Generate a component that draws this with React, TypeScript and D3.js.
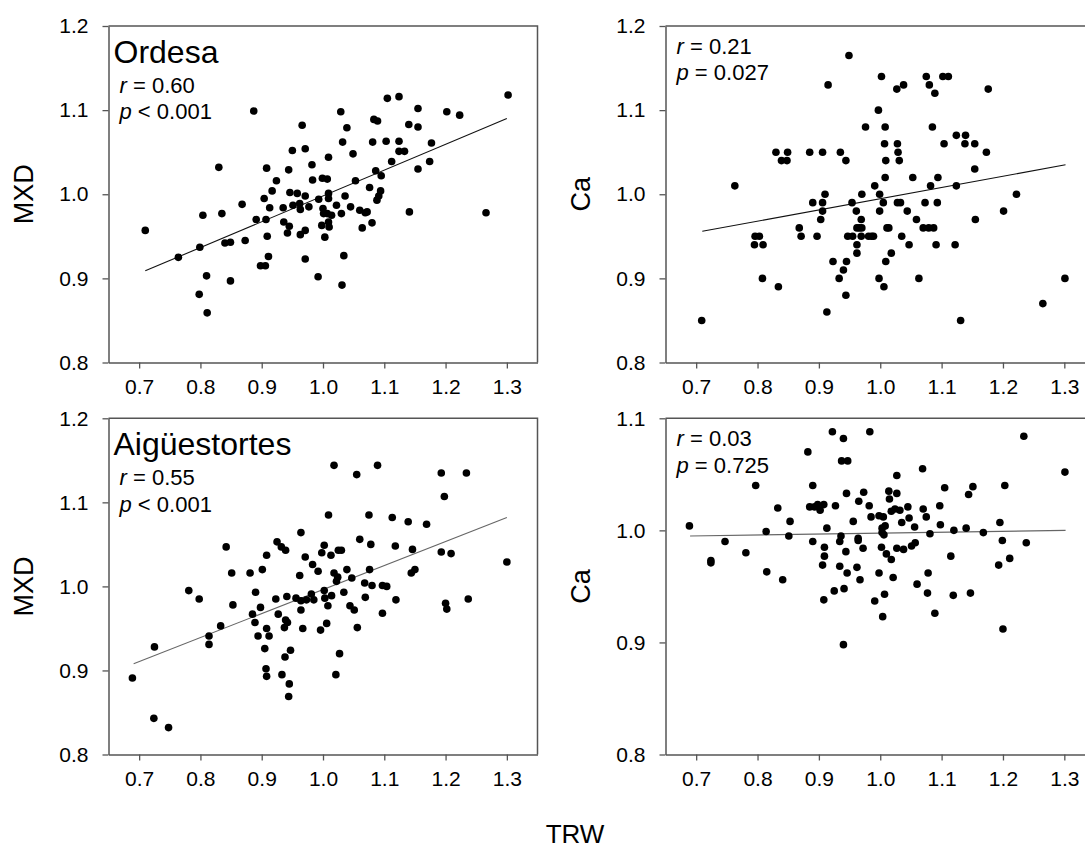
import React, { useEffect, useRef } from "react";
import * as d3 from "d3";

// tick values
const trwTicks = [0.7, 0.8, 0.9, 1.0, 1.1, 1.2, 1.3];
const mxdTicks = [0.8, 0.9, 1.0, 1.1, 1.2];
const caAiguesTicks = [0.8, 0.9, 1.0, 1.1];

// Ordesa, MXD vs TRW
const ordesaMxdTRW = [
  0.710, 0.764, 0.799, 0.804, 0.810, 0.798, 0.811, 0.830, 0.835, 0.840, 0.849, 0.849, 0.868, 0.873,
  0.887, 0.891, 0.898, 0.904, 0.906, 0.907, 0.908, 0.909, 0.911, 0.913, 0.917, 0.924, 0.935, 0.936,
  0.942, 0.944, 0.946, 0.945, 0.950, 0.951, 0.958, 0.962, 0.963, 0.963, 0.966, 0.971, 0.971, 0.971,
  0.971, 0.977, 0.982, 0.983, 0.992, 0.993, 0.999, 1.007, 1.009, 1.009, 1.009, 1.000, 1.001, 1.007,
  1.014, 1.009, 0.998, 1.010, 1.003, 1.022, 1.029, 1.032, 1.039, 1.030, 1.036, 1.045, 1.034, 1.031,
  1.049, 1.053, 1.060, 1.064, 1.069, 1.072, 1.076, 1.080, 1.081, 1.083, 1.089, 1.086, 1.095, 1.094,
  1.091, 1.088, 1.103, 1.105, 1.112, 1.124, 1.124, 1.124, 1.133, 1.140, 1.141, 1.155, 1.155, 1.155,
  1.174, 1.177, 1.202, 1.223, 1.266, 1.302,
];
const ordesaMXD = [
  0.957, 0.925, 0.937, 0.975, 0.903, 0.881, 0.859, 1.032, 0.977, 0.942, 0.943, 0.897, 0.988, 0.945,
  1.099, 0.970, 0.915, 0.995, 0.915, 0.970, 1.031, 0.950, 0.926, 0.984, 1.004, 1.016, 0.984, 0.967,
  0.954, 1.029, 1.002, 0.962, 1.052, 0.987, 1.001, 0.989, 0.982, 0.952, 1.082, 1.054, 0.998, 0.957,
  0.923, 0.985, 1.035, 1.017, 0.902, 0.994, 1.019, 1.018, 1.044, 1.001, 0.995, 0.983, 0.977, 0.977,
  0.975, 0.967, 0.963, 0.961, 0.949, 0.987, 1.098, 1.062, 1.079, 0.977, 0.998, 0.985, 0.927, 0.892,
  1.048, 1.016, 0.981, 0.960, 0.978, 0.979, 1.008, 0.966, 1.062, 1.089, 1.087, 1.028, 1.022, 1.004,
  0.998, 0.993, 1.063, 1.114, 1.039, 1.116, 1.063, 1.051, 1.051, 1.083, 0.979, 1.102, 1.080, 1.030,
  1.039, 1.061, 1.098, 1.094, 0.978, 1.118,
];

// Ordesa, Ca vs TRW
const ordesaCaTRW = [
  0.709, 0.763, 0.796, 0.803, 0.795, 0.809, 0.808, 0.830, 0.839, 0.848, 0.849, 0.834, 0.868, 0.871,
  0.885, 0.897, 0.890, 0.906, 0.906, 0.910, 0.906, 0.903, 0.915, 0.913, 0.923, 0.935, 0.944, 0.933,
  0.940, 0.945, 0.944, 0.949, 0.947, 0.955, 0.954, 0.961, 0.962, 0.966, 0.970, 0.969, 0.962, 0.962,
  0.970, 0.969, 0.981, 0.989, 0.986, 0.976, 0.991, 0.997, 1.002, 1.008, 1.007, 1.009, 1.008, 0.999,
  1.005, 0.999, 1.011, 1.014, 1.009, 0.998, 1.006, 1.018, 1.027, 1.038, 1.028, 1.029, 1.031, 1.028,
  1.033, 1.035, 1.044, 1.047, 1.053, 1.059, 1.063, 1.070, 1.079, 1.087, 1.073, 1.075, 1.080, 1.089,
  1.082, 1.085, 1.093, 1.094, 1.091, 1.102, 1.111, 1.104, 1.122, 1.124, 1.124, 1.139, 1.138, 1.131,
  1.154, 1.154, 1.155, 1.173, 1.176, 1.201, 1.222, 1.265, 1.301,
];
const ordesaCa = [
  0.85, 1.01, 0.95, 0.95, 0.94, 0.94, 0.90, 1.05, 1.04, 1.04, 1.05, 0.89, 0.96, 0.95,
  1.05, 0.95, 0.99, 1.05, 0.99, 1.00, 0.98, 0.97, 1.13, 0.86, 0.92, 1.05, 1.04, 0.90,
  0.91, 0.92, 0.88, 1.165, 0.95, 0.95, 0.99, 0.98, 0.96, 0.96, 0.96, 0.97, 0.94, 0.93,
  1.00, 0.95, 0.95, 0.95, 0.95, 1.08, 1.01, 1.10, 1.14, 1.08, 1.06, 1.04, 1.02, 1.00,
  0.99, 0.98, 0.96, 0.96, 0.92, 0.90, 0.89, 0.93, 1.125, 1.13, 1.06, 1.05, 1.04, 0.99,
  0.99, 0.95, 0.98, 0.94, 1.02, 0.97, 0.90, 0.96, 0.96, 0.96, 0.99, 1.14, 1.13, 1.12,
  1.01, 1.08, 0.99, 1.02, 0.94, 1.14, 1.14, 1.06, 0.94, 1.01, 1.07, 1.07, 1.06, 0.85,
  1.06, 1.03, 0.97, 1.05, 1.125, 0.98, 1.00, 0.87, 0.90,
];

// Aigüestortes, MXD vs TRW
const aiguesMxdTRW = [
  0.689, 0.725, 0.724, 0.748, 0.781, 0.798, 0.814, 0.814, 0.833, 0.842, 0.851, 0.853, 0.881, 0.885,
  0.890, 0.889, 0.894, 0.898, 0.901, 0.905, 0.908, 0.908, 0.912, 0.907, 0.908, 0.923, 0.925, 0.927,
  0.932, 0.939, 0.941, 0.939, 0.942, 0.937, 0.947, 0.938, 0.933, 0.945, 0.944, 0.964, 0.962, 0.971,
  0.956, 0.964, 0.973, 0.964, 0.967, 0.983, 0.992, 0.981, 0.985, 0.996, 0.998, 1.002, 1.013, 1.009,
  1.018, 1.025, 1.030, 1.039, 1.018, 1.024, 1.022, 1.047, 1.002, 1.003, 1.014, 1.008, 1.006, 1.034,
  1.027, 1.021, 1.055, 1.089, 1.060, 1.075, 1.078, 1.076, 1.068, 1.080, 1.069, 1.044, 1.051, 1.056,
  1.097, 1.104, 1.097, 1.113, 1.118, 1.119, 1.139, 1.146, 1.144, 1.150, 1.169, 1.193, 1.198, 1.193,
  1.209, 1.200, 1.202, 1.234, 1.237, 1.300,
];
const aiguesMXD = [
  0.891, 0.928, 0.843, 0.832, 0.995, 0.985, 0.941, 0.931, 0.953, 1.047, 1.016, 0.978, 1.016, 0.967,
  0.993, 0.957, 0.941, 0.975, 1.020, 0.926, 1.037, 0.950, 0.941, 0.902, 0.893, 0.985, 1.053, 0.967,
  1.047, 1.043, 0.988, 0.960, 0.957, 0.951, 0.924, 0.916, 0.895, 0.884, 0.869, 1.064, 1.013, 1.035,
  0.986, 0.983, 0.984, 0.972, 0.950, 1.026, 1.018, 0.991, 0.984, 0.948, 1.040, 1.049, 1.037, 1.085,
  1.144, 1.043, 1.043, 1.020, 1.016, 1.011, 1.006, 1.010, 0.995, 0.986, 0.989, 0.977, 0.956, 0.993,
  0.920, 0.895, 1.133, 1.144, 1.056, 1.085, 1.050, 1.020, 1.004, 1.001, 0.987, 0.977, 0.972, 0.951,
  1.001, 1.000, 0.968, 1.082, 1.048, 0.984, 1.077, 1.044, 1.016, 1.020, 1.074, 1.135, 1.107, 1.041,
  1.039, 0.980, 0.973, 1.135, 0.985, 1.029,
];

// Aigüestortes, Ca vs TRW
const aiguesCaTRW = [
  0.689, 0.724, 0.724, 0.747, 0.781, 0.797, 0.815, 0.814, 0.833, 0.841, 0.853, 0.851, 0.882, 0.890,
  0.885, 0.893, 0.898, 0.902, 0.908, 0.890, 0.913, 0.909, 0.909, 0.906, 0.908, 0.922, 0.927, 0.925,
  0.934, 0.936, 0.934, 0.940, 0.937, 0.947, 0.945, 0.944, 0.946, 0.941, 0.940, 0.965, 0.973, 0.956,
  0.964, 0.964, 0.972, 0.962, 0.967, 0.982, 0.985, 0.983, 0.991, 0.998, 1.005, 1.003, 1.008, 1.003,
  1.006, 1.002, 1.010, 1.018, 0.998, 1.021, 1.007, 1.004, 1.014, 1.015, 1.027, 1.027, 1.018, 1.024,
  1.032, 1.045, 1.047, 1.035, 1.056, 1.027, 1.038, 1.051, 1.057, 1.069, 1.070, 1.075, 1.081, 1.060,
  1.078, 1.077, 1.089, 1.105, 1.097, 1.098, 1.115, 1.120, 1.119, 1.140, 1.144, 1.151, 1.147, 1.168,
  1.195, 1.199, 1.203, 1.193, 1.211, 1.200, 1.234, 1.238, 1.301,
];
const aiguesCa = [
  1.004, 0.973, 0.971, 0.990, 0.980, 1.040, 0.963, 0.999, 1.020, 0.956, 1.008, 0.995, 1.070, 1.040,
  1.021, 1.021, 1.023, 1.018, 1.023, 0.990, 1.002, 0.985, 0.977, 0.969, 0.938, 1.088, 1.022, 0.946,
  0.990, 0.995, 0.968, 1.082, 1.062, 1.062, 1.033, 0.981, 0.962, 0.948, 0.898, 1.026, 1.034, 1.008,
  0.993, 0.991, 0.984, 0.967, 0.956, 1.022, 1.012, 1.088, 0.937, 1.013, 1.012, 1.002, 1.004, 0.998,
  0.996, 0.985, 0.979, 0.974, 0.962, 0.958, 0.943, 0.923, 1.035, 1.028, 1.049, 1.033, 1.017, 1.019,
  1.018, 1.021, 1.011, 1.007, 1.003, 0.984, 0.983, 0.986, 0.989, 1.055, 1.019, 1.012, 0.997, 0.952,
  0.962, 0.944, 0.926, 1.038, 1.022, 1.005, 0.977, 1.000, 0.942, 1.002, 1.032, 1.039, 0.944, 0.998,
  1.007, 0.991, 1.040, 0.969, 0.975, 0.912, 1.084, 0.989, 1.052,
];

// regression lines: [trw0, y0, trw1, y1]
const ordesaMxdFit = [0.71, 0.909, 1.30, 1.090];
const ordesaCaFit = [0.71, 0.956, 1.302, 1.035];
const aiguesMxdFit = [0.691, 0.908, 1.30, 1.082];
const aiguesCaFit = [0.69, 0.995, 1.302, 1.0];

const FONT = "'Liberation Sans', Arial, Helvetica, sans-serif";

const panels = [
  {
    left: 108.5, right: 537.5, top: 26, bottom: 362.5,
    yDomain: [0.8, 1.2], yTicks: mxdTicks, xs: ordesaMxdTRW, ys: ordesaMXD,
    fit: ordesaMxdFit, fitColor: "#111", title: "Ordesa", r: "0.60", p: "< 0.001", yLabel: "MXD",
  },
  {
    left: 665.5, right: 1095, top: 26, bottom: 362.5,
    yDomain: [0.8, 1.2], yTicks: mxdTicks, xs: ordesaCaTRW, ys: ordesaCa,
    fit: ordesaCaFit, fitColor: "#111", title: "", r: "0.21", p: "= 0.027", yLabel: "Ca",
  },
  {
    left: 108.5, right: 537.5, top: 418.3, bottom: 754.5,
    yDomain: [0.8, 1.2], yTicks: mxdTicks, xs: aiguesMxdTRW, ys: aiguesMXD,
    fit: aiguesMxdFit, fitColor: "#666", title: "Aigüestortes", r: "0.55", p: "< 0.001", yLabel: "MXD",
  },
  {
    left: 665.5, right: 1095, top: 418.3, bottom: 754.5,
    yDomain: [0.8, 1.1], yTicks: caAiguesTicks, xs: aiguesCaTRW, ys: aiguesCa,
    fit: aiguesCaFit, fitColor: "#666", title: "", r: "0.03", p: "= 0.725", yLabel: "Ca",
  },
];

const App = () => {
  const ref = useRef<SVGSVGElement>(null);

  useEffect(() => {
    const svg = d3.select(ref.current);
    svg.selectAll("*").remove();

    panels.forEach((p) => {
      const x = d3.scaleLinear().domain([0.65, 1.35]).range([p.left, p.right]);
      const y = d3.scaleLinear().domain(p.yDomain).range([p.bottom, p.top]);
      const g = svg.append("g");

      // frame (top + right)
      g.append("path")
        .attr("d", `M${p.left},${p.top}H${p.right}V${p.bottom}`)
        .attr("fill", "none")
        .attr("stroke", "#555")
        .attr("stroke-width", 1.5);

      const xAxis = g
        .append("g")
        .attr("transform", `translate(0,${p.bottom})`)
        .call(
          d3.axisBottom(x).tickValues(trwTicks).tickSize(6).tickSizeOuter(0)
            .tickPadding(11).tickFormat(d3.format(".1f"))
        );
      const yAxis = g
        .append("g")
        .attr("transform", `translate(${p.left},0)`)
        .call(
          d3.axisLeft(y).tickValues(p.yTicks).tickSize(6).tickSizeOuter(0)
            .tickPadding(14).tickFormat(d3.format(".1f"))
        );
      [xAxis, yAxis].forEach((a) => {
        a.attr("font-family", FONT).attr("font-size", 21);
        a.select(".domain").attr("stroke", "#555").attr("stroke-width", 1.5);
        a.selectAll(".tick line").attr("stroke", "#555").attr("stroke-width", 1.3);
        a.selectAll(".tick text").attr("fill", "#000");
      });

      // regression line
      g.append("line")
        .attr("x1", x(p.fit[0]))
        .attr("y1", y(p.fit[1]))
        .attr("x2", x(p.fit[2]))
        .attr("y2", y(p.fit[3]))
        .attr("stroke", p.fitColor)
        .attr("stroke-width", 1.1);

      g.append("g")
        .selectAll("circle")
        .data(d3.range(p.xs.length))
        .join("circle")
        .attr("cx", (i) => x(p.xs[i]))
        .attr("cy", (i) => y(p.ys[i]))
        .attr("r", 3.8)
        .attr("fill", "#000");

      // labels
      const hasTitle = p.title !== "";
      if (hasTitle) {
        g.append("text")
          .attr("x", p.left + 5)
          .attr("y", p.top + 36.5)
          .attr("font-family", FONT)
          .attr("font-size", 32)
          .text(p.title);
      }
      const rY = hasTitle ? p.top + 66.5 : p.top + 27.5;
      const stat = (yy: number, sym: string, rest: string) => {
        const t = g.append("text")
          .attr("x", p.left + 11)
          .attr("y", yy)
          .attr("font-family", FONT)
          .attr("font-size", 22);
        t.append("tspan").attr("font-style", "italic").text(sym);
        t.append("tspan").text(" " + rest);
      };
      stat(rY, "r", "= " + p.r);
      stat(rY + 26.7, "p", p.p);

      svg.append("text")
        .attr("transform", `translate(${p.left - 76},${(p.top + p.bottom) / 2}) rotate(-90)`)
        .attr("text-anchor", "middle")
        .attr("font-family", FONT)
        .attr("font-size", 27)
        .text(p.yLabel);
    });

    svg.append("text")
      .attr("x", 575)
      .attr("y", 843)
      .attr("text-anchor", "middle")
      .attr("font-family", FONT)
      .attr("font-size", 26)
      .text("TRW");
  }, []);

  return (
    <svg
      ref={ref}
      width={1085}
      height={850}
      style={{ position: "absolute", left: 0, top: 0, background: "#fff" }}
    />
  );
};

export default App;
